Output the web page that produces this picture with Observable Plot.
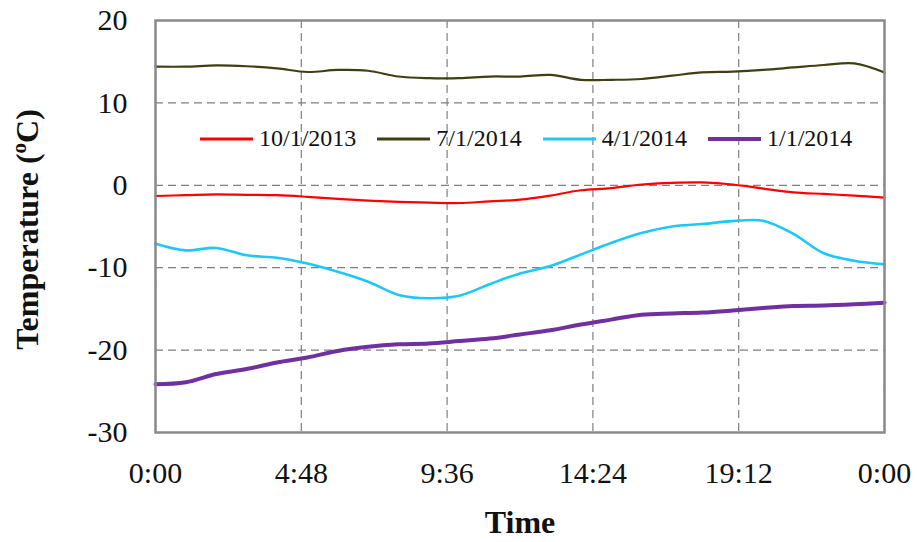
<!DOCTYPE html>
<html>
<head>
<meta charset="utf-8">
<script src="https://cdn.jsdelivr.net/npm/d3@7"></script>
<script src="https://cdn.jsdelivr.net/npm/@observablehq/plot@0.6"></script>
<style>
  body { margin: 0; background: #fff; }
  #wrap { position: relative; width: 917px; height: 542px; font-family: "Liberation Serif", "Times New Roman", serif; }
  #legend { position: absolute; left: 200px; top: 125px; display: flex; align-items: center; font-size: 24px; color: #111; white-space: nowrap; }
  .item { display: flex; align-items: center; margin-right: 21px; }
  .item svg { margin-right: 6px; }
</style>
</head>
<body>
<div id="wrap"><div id="legend"></div></div>
<script>
// Hours of the day (0 = 0:00, 24 = next 0:00)
const hours = [0,1,2,3,4,5,6,7,8,9,10,11,12,13,14,15,16,17,18,19,20,21,22,23,24];

const seriesNames = ["10/1/2013", "7/1/2014", "4/1/2014", "1/1/2014"];
const seriesColors = ["#ff0000", "#3f3f12", "#1ec8f6", "#7030a0"];
const seriesWidths = [2.2, 2.2, 2.6, 4];

const oct2013 = [-1.3,-1.2,-1.1,-1.15,-1.2,-1.4,-1.65,-1.85,-2.0,-2.1,-2.15,-1.95,-1.75,-1.25,-0.6,-0.35,0.1,0.3,0.35,0.1,-0.4,-0.85,-1.05,-1.25,-1.5];
const jul2014 = [14.4,14.4,14.55,14.45,14.2,13.75,14.0,13.9,13.2,13.0,13.0,13.2,13.2,13.4,12.8,12.8,12.9,13.3,13.7,13.8,14.0,14.3,14.6,14.8,13.7];
const apr2014 = [-7.1,-7.9,-7.6,-8.5,-8.8,-9.5,-10.5,-11.7,-13.3,-13.7,-13.4,-12.0,-10.7,-9.8,-8.4,-7.0,-5.8,-5.0,-4.7,-4.35,-4.3,-5.9,-8.25,-9.15,-9.6];
const jan2014 = [-24.15,-23.9,-22.9,-22.3,-21.5,-20.9,-20.1,-19.6,-19.3,-19.2,-18.9,-18.6,-18.1,-17.6,-16.9,-16.3,-15.7,-15.55,-15.45,-15.2,-14.9,-14.65,-14.6,-14.45,-14.25];

const xTicks = [0, 4.8, 9.6, 14.4, 19.2, 24];
const yTicks = [-30, -20, -10, 0, 10, 20];
const xTitle = "Time";
const yTitle = "Temperature (ºC)";

const allValues = [oct2013, jul2014, apr2014, jan2014];
const rows = [];
seriesNames.forEach((name, i) => {
  hours.forEach((h, j) => rows.push({series: name, hour: h, temp: allValues[i][j]}));
});

const fmtTime = h => {
  const m = Math.round((h % 24) * 60);
  return `${Math.floor(m / 60)}:${String(m % 60).padStart(2, "0")}`;
};

const serif = "Liberation Serif, Times New Roman, serif";

const lineMarks = seriesNames.map((name, i) =>
  Plot.line(rows.filter(d => d.series === name), {
    x: "hour", y: "temp", stroke: seriesColors[i], strokeWidth: seriesWidths[i],
    curve: "catmull-rom"
  })
);

const chart = Plot.plot({
  width: 917,
  height: 542,
  marginLeft: 155,
  marginRight: 33,
  marginTop: 20,
  marginBottom: 110,
  style: {fontFamily: serif, fontSize: "30px", color: "#111", background: "#fff"},
  x: {domain: [0, 24]},
  y: {domain: [-30, 20]},
  marks: [
    Plot.gridX(xTicks, {stroke: "#7f7f7f", strokeOpacity: 1, strokeWidth: 1.2, strokeDasharray: "8,5"}),
    Plot.gridY(yTicks, {stroke: "#7f7f7f", strokeOpacity: 1, strokeWidth: 1.2, strokeDasharray: "8,5"}),
    Plot.axisX(xTicks, {tickSize: 0, tickPadding: 29, tickFormat: fmtTime, label: null, fontSize: 30}),
    Plot.axisY(yTicks, {tickSize: 0, tickPadding: 28, tickFormat: d => String(d), label: null, fontSize: 30}),
    ...lineMarks,
    Plot.frame({stroke: "#8a8a8a", strokeWidth: 2.5}),
    Plot.text([xTitle], {text: d => d, frameAnchor: "bottom", dy: 100, fontWeight: "bold", fontSize: 32, fill: "#111"}),
    Plot.text([yTitle], {text: d => d, frameAnchor: "left", textAnchor: "middle", rotate: -90, dx: -128, dy: 3, fontWeight: "bold", fontSize: 32, fill: "#111"})
  ]
});

// superscript "o" in the y title
chart.querySelectorAll("text").forEach(t => {
  if (t.textContent === yTitle) {
    t.textContent = "";
    const ns = "http://www.w3.org/2000/svg";
    const a = document.createElementNS(ns, "tspan"); a.textContent = "Temperature (";
    const b = document.createElementNS(ns, "tspan"); b.textContent = "o"; b.setAttribute("baseline-shift", "super"); b.setAttribute("font-size", "21");
    const c = document.createElementNS(ns, "tspan"); c.textContent = "C)";
    t.append(a, b, c);
  }
});

const wrap = document.getElementById("wrap");
wrap.insertBefore(chart, wrap.firstChild);

const legend = document.getElementById("legend");
seriesNames.forEach((name, i) => {
  const item = document.createElement("div");
  item.className = "item";
  item.innerHTML = `<svg width="53" height="10"><line x1="0" x2="53" y1="5" y2="5" stroke="${seriesColors[i]}" stroke-width="${Math.max(3, seriesWidths[i])}"/></svg><span>${name}</span>`;
  legend.appendChild(item);
});
</script>
</body>
</html>
